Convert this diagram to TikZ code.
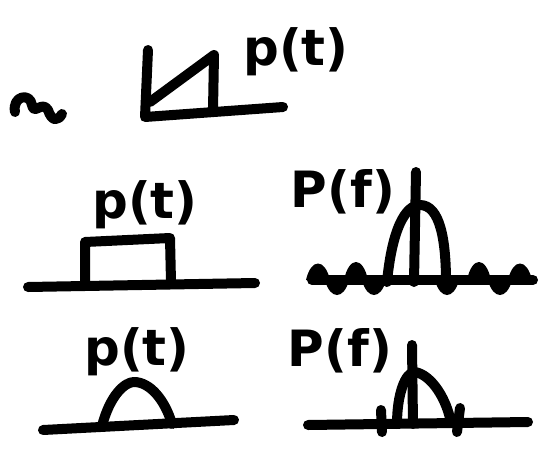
\documentclass[tikz,border=0pt]{standalone}
\usepackage{fontspec}
\setsansfont{DejaVu Sans}
\usetikzlibrary{positioning}

\begin{document}
\begin{tikzpicture}[
  x=1pt, y=-1pt,
  ink/.style={line width=10pt, line cap=round, line join=round},
  lbl/.style={font=\fontsize{50}{54}\selectfont\sffamily\bfseries, inner sep=0pt},
]
  \useasboundingbox (0,0) rectangle (539,448);

  % Ramp (top)
  \draw[ink] (15,112) .. controls (12,96) and (30,92) .. (32,105)
    .. controls (34,116) and (42,100) .. (48,110)
    .. controls (52,122) and (58,121) .. (62,114);
  \draw[ink] (148,50) -- (145,117) -- (283,107);
  \draw[ink] (150,102) -- (214,55) -- (213,110);
  \node[lbl] (pramp) at (296,52) {p(t)};

  % Rectangular pulse
  \draw[ink] (28,287) -- (255,283);
  \draw[ink] (85,285) -- (85,242) -- (170,238) -- (171,282);
  \node[lbl] (prect) at (145,205) {p(t)};

  % Its spectrum
  \draw[ink] (312,280) -- (533,280);
  \foreach \cx/\h in {318/-22, 337/20, 356/-24, 374/20, 447/20, 479/-24, 500/20, 520/-22}
    \fill ({\cx-12},280) .. controls ({\cx-7},{280+\h}) and ({\cx+7},{280+\h}) .. ({\cx+12},280) -- cycle;
  \draw[ink] (387,282) .. controls (392,230) and (405,205) .. (420,205)
    .. controls (440,205) and (446,240) .. (446,282);
  \draw[ink] (416,172) -- (414,282);
  \node[lbl] (Prect) at (343,192) {P(f)};

  % Half-sine pulse
  \draw[ink] (43,430) -- (234,420);
  \draw[ink] (102,426) .. controls (110,395) and (125,382) .. (134,382)
    .. controls (150,382) and (165,400) .. (172,424);
  \node[lbl] (psine) at (137,352) {p(t)};

  % Its spectrum
  \draw[ink] (308,425) -- (528,422);
  \draw[ink] (412,345) -- (413,424);
  \draw[ink] (397,424) .. controls (397,395) and (405,372) .. (415,372)
    .. controls (432,375) and (447,400) .. (451,423);
  \draw[ink] (381,410) -- (382,432);
  \draw[ink] (460,408) -- (457,432);
  \node[lbl] (Psine) at (340,351) {P(f)};
\end{tikzpicture}
\end{document}
